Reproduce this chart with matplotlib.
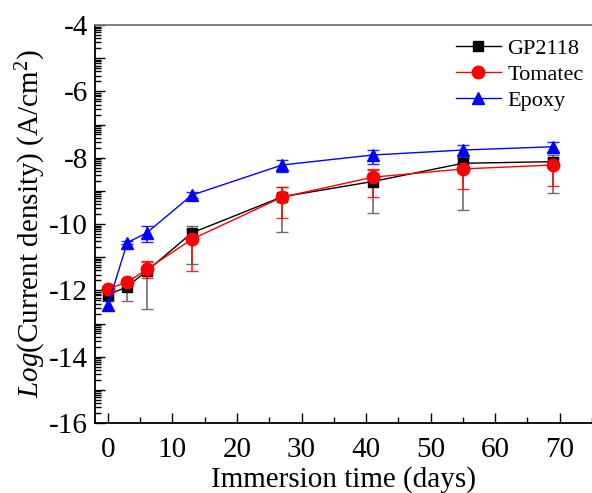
import numpy as np
import matplotlib
matplotlib.use("Agg")
import matplotlib.pyplot as plt
from matplotlib.ticker import FixedLocator, FuncFormatter, MultipleLocator

plt.rcParams["font.family"] = "Liberation Serif"
plt.rcParams["mathtext.fontset"] = "custom"
plt.rcParams["mathtext.rm"] = "Liberation Serif"
plt.rcParams["mathtext.it"] = "Liberation Serif:italic"
plt.rcParams["axes.unicode_minus"] = False

# immersion time (days)
days = [0, 3, 6, 13, 27, 41, 55, 69]

# log current density and asymmetric error bars (lower, upper)
gp2118 = [-12.14, -11.89, -11.42, -10.27, -9.18, -8.72, -8.17, -8.12]
gp2118_lo = [0.10, 0.42, 1.15, 0.93, 1.07, 0.96, 1.41, 0.95]
gp2118_hi = [0.10, 0.15, 0.27, 0.22, 0.31, 0.35, 0.20, 0.20]

tomatec = [-11.96, -11.75, -11.37, -10.46, -9.19, -8.59, -8.34, -8.22]
tomatec_lo = [0.08, 0.10, 0.27, 0.96, 0.62, 0.60, 0.61, 0.63]
tomatec_hi = [0.08, 0.08, 0.25, 0.30, 0.30, 0.24, 0.20, 0.22]

epoxy = [-12.44, -10.56, -10.27, -9.13, -8.22, -7.92, -7.77, -7.67]
epoxy_lo = [0.15, 0.05, 0.28, 0.08, 0.22, 0.27, 0.25, 0.20]
epoxy_hi = [0.12, 0.05, 0.20, 0.08, 0.15, 0.15, 0.15, 0.15]

W, H = 592, 493
fig = plt.figure(figsize=(W / 100, H / 100), dpi=100)
ax = fig.add_axes([95 / W, 1 - 423 / H, (W - 95) / W, (423 - 25) / H])

series = [
    ("GP2118", gp2118, gp2118_lo, gp2118_hi, "black", "s", 7, "#555555"),
    ("Tomatec", tomatec, tomatec_lo, tomatec_hi, "red", "o", 9, "red"),
    ("Epoxy", epoxy, epoxy_lo, epoxy_hi, "blue", "^", 9, "blue"),
]
for name, y, lo, hi, col, mk, ms, ecol in series:
    ax.errorbar(days, y, yerr=[lo, hi], fmt="none", ecolor=ecol,
                elinewidth=1.2, capsize=4, capthick=1.0, alpha=0.85, zorder=2)
    ax.plot(days, y, color=col, lw=1.0, marker=mk, ms=ms,
            markerfacecolor=col, markeredgecolor=col, label=name, zorder=3)

ax.set_xlim(-2, 75)
ax.set_ylim(-16, -4)

ax.xaxis.set_major_locator(MultipleLocator(10))
ax.xaxis.set_minor_locator(MultipleLocator(5))
ax.yaxis.set_major_locator(MultipleLocator(1))
ax.yaxis.set_major_formatter(
    FuncFormatter(lambda v, p: f"{int(round(v))}" if int(round(v)) % 2 == 0 else ""))
minor = [k + np.log10(j) for k in range(-16, -4) for j in range(2, 10)]
ax.yaxis.set_minor_locator(FixedLocator(minor))

ax.tick_params(which="both", direction="in", labelsize=21, width=1.0)
ax.tick_params(which="major", length=7)
ax.tick_params(which="minor", length=4)
ax.tick_params(axis="x", pad=10)
ax.tick_params(axis="y", pad=5)

ax.spines["right"].set_visible(False)
ax.spines["top"].set_color("#777777")
for s in ["left", "bottom", "top"]:
    ax.spines[s].set_linewidth(1.3)

ax.set_xlabel("Immersion time (days)", fontsize=21, labelpad=2)
ax.set_ylabel(r"$Log$(Current density) (A/cm$^2$)", fontsize=21, labelpad=1)

ax.legend(loc="upper right", bbox_to_anchor=(1.01, 1.0), borderaxespad=0.2,
          frameon=False, fontsize=16, handlelength=2.0, handletextpad=0.3,
          labelspacing=0.25)

fig.savefig("out.png", dpi=100)
